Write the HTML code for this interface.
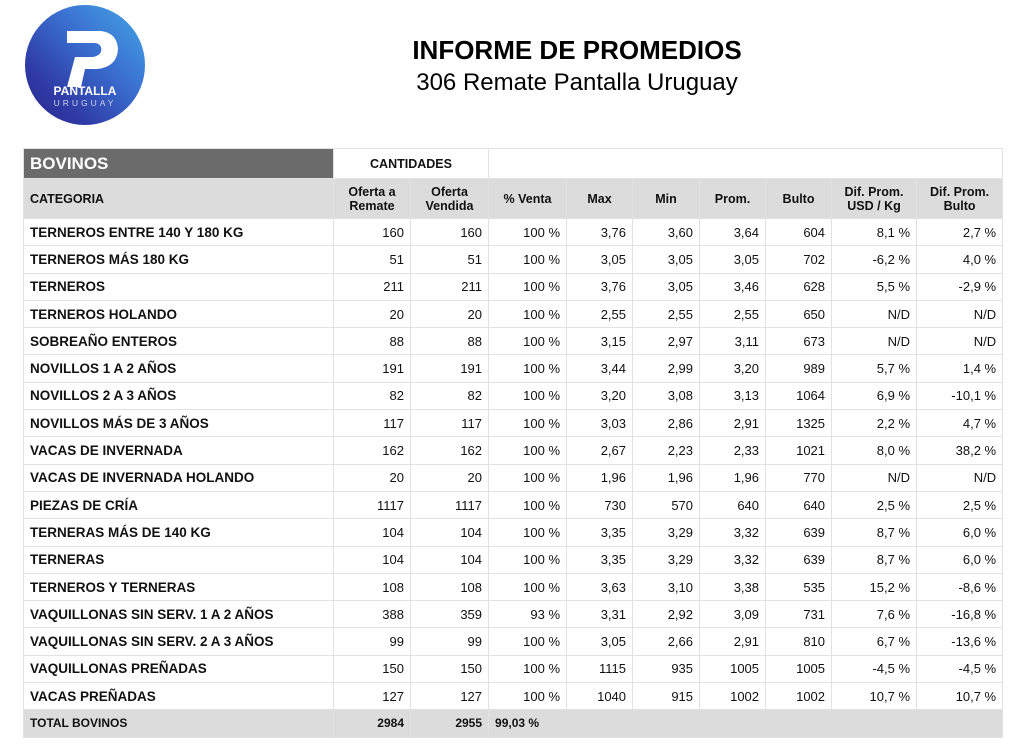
<!DOCTYPE html>
<html><head><meta charset="utf-8"><style>
body{margin:0;width:1024px;height:750px;background:#fff;font-family:"Liberation Sans",Arial,sans-serif;position:relative;overflow:hidden}
.logo{position:absolute;left:25px;top:5px;width:120px;height:120px;border-radius:50%;background:linear-gradient(225deg,#45a8e6 0%,#3a6fd0 40%,#2f3aa6 75%,#2a2785 100%)}
.t1{position:absolute;left:0;width:1154px;text-align:center;top:35px;font-size:26px;font-weight:bold;color:#000}
.t2{position:absolute;left:0;width:1154px;text-align:center;top:69px;font-size:24px;color:#000}
table{position:absolute;left:23px;top:148px;border-collapse:collapse;table-layout:fixed;width:979px}
td{border:1px solid #e2e2e2;font-size:13px;padding:0 6px;height:26.3px;text-align:right;color:#111;white-space:nowrap;overflow:hidden}
td.c{text-align:left;font-weight:bold;font-size:13.5px}
tr.h td{background:#dcdcdc;font-weight:bold;text-align:center;font-size:12.5px;line-height:14px;height:39px}
tr.h td.c{text-align:left;font-size:12.5px}
tr.top td{height:29px;background:#fff}
td.bov{background:#6b6b6b!important;color:#fff;font-size:17px;font-weight:bold;text-align:left}
tr.tot td{background:#dcdcdc;font-weight:bold;font-size:12px}
</style></head><body>
<div class="logo">
<svg width="120" height="120" viewBox="0 0 120 120">
<path d="M42 26 L76 26 Q92 28 93 44 Q92 62 72 64 L60 64 L56 82 L42 82 L50 52 L68 52 Q78 50 76 42 Q74 37 66 38 L42 38 Z" fill="#fff"/>
<text x="60" y="90" text-anchor="middle" fill="#fff" font-size="12" font-weight="bold" font-family="Liberation Sans,sans-serif">PANTALLA</text>
<text x="60" y="101" text-anchor="middle" fill="#c9d4f0" font-size="8.5" letter-spacing="3" font-family="Liberation Sans,sans-serif">URUGUAY</text>
</svg></div>
<div class="t1">INFORME DE PROMEDIOS</div>
<div class="t2">306 Remate Pantalla Uruguay</div>
<table>
<colgroup><col style="width:310px"><col style="width:77px"><col style="width:78px"><col style="width:78px"><col style="width:66px"><col style="width:67px"><col style="width:66px"><col style="width:66px"><col style="width:85px"><col style="width:86px"></colgroup>
<tr class="top"><td class="bov">BOVINOS</td><td colspan="2" style="text-align:center;font-weight:bold;font-size:12.5px">CANTIDADES</td><td colspan="7"></td></tr>
<tr class="h"><td class="c">CATEGORIA</td><td>Oferta a<br>Remate</td><td>Oferta<br>Vendida</td><td>% Venta</td><td>Max</td><td>Min</td><td>Prom.</td><td>Bulto</td><td>Dif. Prom.<br>USD / Kg</td><td>Dif. Prom.<br>Bulto</td></tr>
<tr><td class="c">TERNEROS ENTRE 140 Y 180 KG</td><td>160</td><td>160</td><td>100 %</td><td>3,76</td><td>3,60</td><td>3,64</td><td>604</td><td>8,1 %</td><td>2,7 %</td></tr>
<tr><td class="c">TERNEROS MÁS 180 KG</td><td>51</td><td>51</td><td>100 %</td><td>3,05</td><td>3,05</td><td>3,05</td><td>702</td><td>-6,2 %</td><td>4,0 %</td></tr>
<tr><td class="c">TERNEROS</td><td>211</td><td>211</td><td>100 %</td><td>3,76</td><td>3,05</td><td>3,46</td><td>628</td><td>5,5 %</td><td>-2,9 %</td></tr>
<tr><td class="c">TERNEROS HOLANDO</td><td>20</td><td>20</td><td>100 %</td><td>2,55</td><td>2,55</td><td>2,55</td><td>650</td><td>N/D</td><td>N/D</td></tr>
<tr><td class="c">SOBREAÑO ENTEROS</td><td>88</td><td>88</td><td>100 %</td><td>3,15</td><td>2,97</td><td>3,11</td><td>673</td><td>N/D</td><td>N/D</td></tr>
<tr><td class="c">NOVILLOS 1 A 2 AÑOS</td><td>191</td><td>191</td><td>100 %</td><td>3,44</td><td>2,99</td><td>3,20</td><td>989</td><td>5,7 %</td><td>1,4 %</td></tr>
<tr><td class="c">NOVILLOS 2 A 3 AÑOS</td><td>82</td><td>82</td><td>100 %</td><td>3,20</td><td>3,08</td><td>3,13</td><td>1064</td><td>6,9 %</td><td>-10,1 %</td></tr>
<tr><td class="c">NOVILLOS MÁS DE 3 AÑOS</td><td>117</td><td>117</td><td>100 %</td><td>3,03</td><td>2,86</td><td>2,91</td><td>1325</td><td>2,2 %</td><td>4,7 %</td></tr>
<tr><td class="c">VACAS DE INVERNADA</td><td>162</td><td>162</td><td>100 %</td><td>2,67</td><td>2,23</td><td>2,33</td><td>1021</td><td>8,0 %</td><td>38,2 %</td></tr>
<tr><td class="c">VACAS DE INVERNADA HOLANDO</td><td>20</td><td>20</td><td>100 %</td><td>1,96</td><td>1,96</td><td>1,96</td><td>770</td><td>N/D</td><td>N/D</td></tr>
<tr><td class="c">PIEZAS DE CRÍA</td><td>1117</td><td>1117</td><td>100 %</td><td>730</td><td>570</td><td>640</td><td>640</td><td>2,5 %</td><td>2,5 %</td></tr>
<tr><td class="c">TERNERAS MÁS DE 140 KG</td><td>104</td><td>104</td><td>100 %</td><td>3,35</td><td>3,29</td><td>3,32</td><td>639</td><td>8,7 %</td><td>6,0 %</td></tr>
<tr><td class="c">TERNERAS</td><td>104</td><td>104</td><td>100 %</td><td>3,35</td><td>3,29</td><td>3,32</td><td>639</td><td>8,7 %</td><td>6,0 %</td></tr>
<tr><td class="c">TERNEROS Y TERNERAS</td><td>108</td><td>108</td><td>100 %</td><td>3,63</td><td>3,10</td><td>3,38</td><td>535</td><td>15,2 %</td><td>-8,6 %</td></tr>
<tr><td class="c">VAQUILLONAS SIN SERV. 1 A 2 AÑOS</td><td>388</td><td>359</td><td>93 %</td><td>3,31</td><td>2,92</td><td>3,09</td><td>731</td><td>7,6 %</td><td>-16,8 %</td></tr>
<tr><td class="c">VAQUILLONAS SIN SERV. 2 A 3 AÑOS</td><td>99</td><td>99</td><td>100 %</td><td>3,05</td><td>2,66</td><td>2,91</td><td>810</td><td>6,7 %</td><td>-13,6 %</td></tr>
<tr><td class="c">VAQUILLONAS PREÑADAS</td><td>150</td><td>150</td><td>100 %</td><td>1115</td><td>935</td><td>1005</td><td>1005</td><td>-4,5 %</td><td>-4,5 %</td></tr>
<tr><td class="c">VACAS PREÑADAS</td><td>127</td><td>127</td><td>100 %</td><td>1040</td><td>915</td><td>1002</td><td>1002</td><td>10,7 %</td><td>10,7 %</td></tr>
<tr class="tot"><td class="c" style="font-size:12px">TOTAL BOVINOS</td><td>2984</td><td>2955</td><td colspan="7" style="text-align:left">99,03 %</td></tr>
</table>
</body></html>
